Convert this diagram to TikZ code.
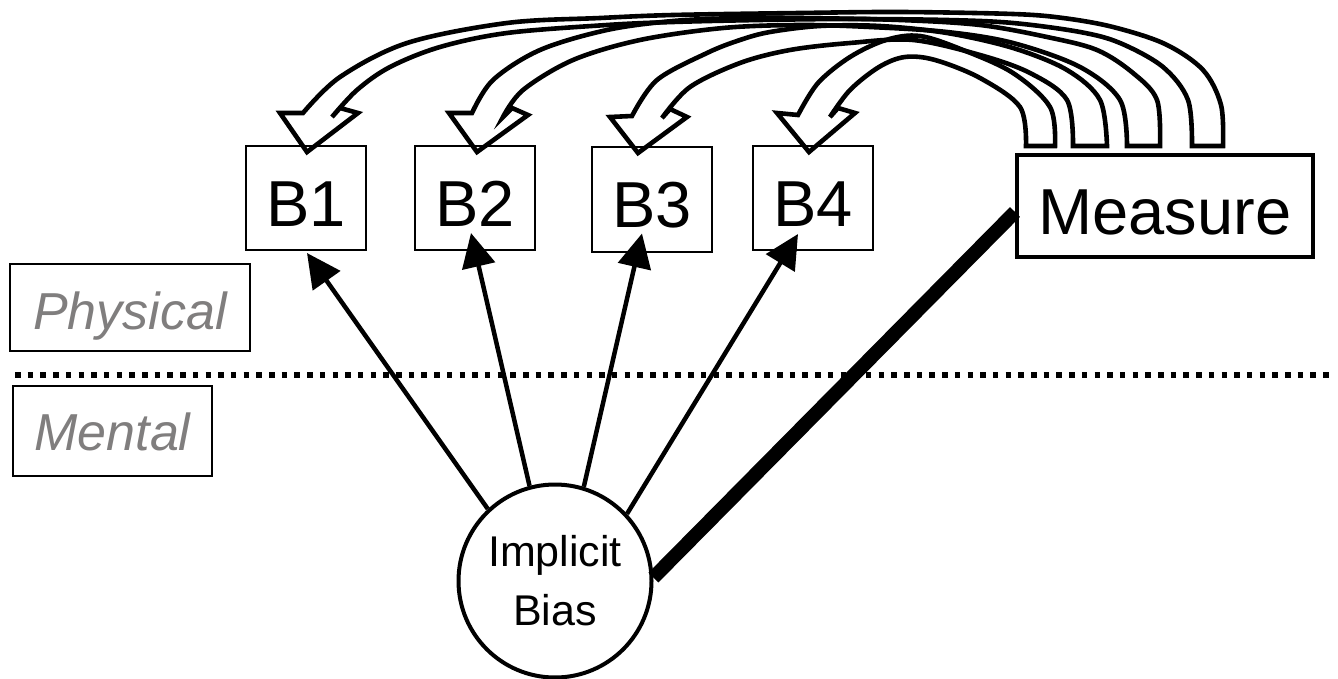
\documentclass[tikz,border=0pt]{standalone}
\usepackage{fontspec}
\setmainfont{Liberation Sans}
\usetikzlibrary{arrows.meta,calc}
\definecolor{labgray}{RGB}{128,126,126}
\tikzset{
  bbox/.style={draw, line width=2pt, minimum width=120pt, minimum height=104pt, inner sep=0pt,
    text height=56pt, text depth=0pt, font=\fontsize{65}{78}\selectfont},
  mbox/.style={draw, line width=4pt, minimum width=296pt, minimum height=102pt, inner sep=0pt,
    text height=56pt, text depth=0pt, font=\fontsize{65}{78}\selectfont},
  region/.style={draw, line width=2pt, inner sep=0pt, text=labgray,
    font=\fontsize{52}{60}\selectfont\itshape},
  latent/.style={draw, circle, line width=4pt, minimum size=193pt, inner sep=0pt, align=center,
    font=\fontsize{43}{59}\selectfont},
  infl/.style={line width=4.5pt, -{Triangle[length=34pt,width=33pt]}},
  hollow/.style={line width=4.6pt, line join=miter},
  meas/.style={line width=14pt},
  divider/.style={line width=5.5pt, dash pattern=on 5.5pt off 7.2pt},
  sm/.style={smooth, tension=0.55}
}
\begin{document}
\begin{tikzpicture}[x=1pt,y=-1pt]
\useasboundingbox (0,0) rectangle (1338,679);

% boxes
\node[bbox] (b1) at (306,198) {B1};
\node[bbox] (b2) at (475,198) {B2};
\node[bbox] (b3) at (652,199.5) {B3};
\node[bbox] (b4) at (813,198) {B4};
\node[mbox] (m) at (1165,206) {Measure};

% region labels
\node[region, minimum width=240pt, minimum height=87pt, text height=43pt, text depth=0pt] (phys) at (130,307.5) {Physical};
\node[region, minimum width=199pt, minimum height=90pt, text height=38pt, text depth=0pt] (ment) at (112.5,431) {Mental};

% divider
\coordinate (dl) at (15,375);
\coordinate (dr) at (1334,375);
\draw[divider] (dl) -- (dr);

% latent
\node[latent] (ib) at (555,581) {Implicit\\Bias};

% influence arrows
\draw[infl] (ib.133) -- ($(b1.south)+(1,2)$);
\draw[infl] (ib.105) -- ($(b2.south)+(-4,-18)$);
\draw[infl] (ib.73) -- ($(b3.south)+(-10,-19)$);
\draw[infl] (ib.43) -- ($(b4.south)+(-15,-17)$);

% measurement link
\draw[meas] (ib.2) -- ($(m.west)+(0,6)$);

% hollow curved arrows (Measure -> B1..B4)
\draw[hollow] plot[sm] coordinates {(1223,146) (1221,105) (1203,70) (1165,44) (1113,27) (1063,18) (1013,14) (900,12) (800,13) (673,15) (600,18) (507,23) (407,43) (340,77) (303,113)}
  -- (280,113) -- (307,152) -- (358,113) -- (340,108) -- (332,117)
  -- plot[sm] coordinates {(332,117) (357,90) (390,67) (440,47) (507,33) (607,25) (673,22) (760,20) (850,19) (947,20) (1013,23) (1080,32) (1120,43) (1163,67) (1188,100) (1192,146)} -- cycle;

\draw[hollow] plot[sm] coordinates {(1160,146) (1157,100) (1133,73) (1097,50) (1047,37) (980,25) (900,20) (800,18) (740,18) (673,21) (607,30) (540,50) (493,80) (472,113)}
  -- (449,113) -- (477,152) -- (528,115) -- (512,108) -- (503,117)
  -- plot[sm] coordinates {(503,117) (523,90) (573,60) (640,40) (723,28) (800,25) (870,27) (947,32) (1013,43) (1080,67) (1120,100) (1127,146)} -- cycle;

\draw[hollow] plot[sm] coordinates {(1107,146) (1100,100) (1067,70) (1013,48) (947,33) (880,26) (820,26) (770,32) (740,40) (707,53) (657,80) (632,116)}
  -- (610,117) -- (638,153) -- (687,117) -- (670,109) -- (662,118)
  -- plot[sm] coordinates {(662,118) (690,87) (740,63) (790,50) (850,43) (913,40) (980,55) (1030,73) (1067,100) (1073,146)} -- cycle;

\draw[hollow] plot[sm] coordinates {(1055,146) (1050,107) (1013,73) (963,50) (920,36) (886,40) (850,57) (818,83) (798,115)}
  -- (777,113) -- (809,152) -- (855,113) -- (838,108) -- (830,117)
  -- plot[sm] coordinates {(830,117) (850,90) (879,67) (905,57) (935,60) (980,78) (1020,107) (1026,146)} -- cycle;

\end{tikzpicture}
\end{document}
